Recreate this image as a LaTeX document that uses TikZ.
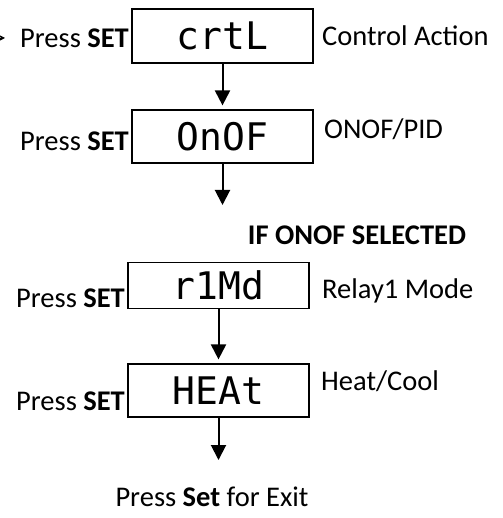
\documentclass[tikz,border=0pt]{standalone}
\usepackage{fontspec}
\setmainfont{Carlito}
\newfontfamily\segfont{DejaVu Sans Mono}
\usetikzlibrary{arrows.meta}
\begin{document}
\begin{tikzpicture}[x=1pt,y=-1pt,
  dispbox/.style={draw, line width=1.2pt, minimum width=181pt, inner sep=0pt,
    font=\segfont\fontsize{38}{38}\selectfont, text height=28pt, text depth=0pt},
  lbl/.style={inner sep=0pt, font=\fontsize{28.5}{33}\selectfont},
  arr/.style={line width=2pt, -{Triangle[width=15pt,length=15pt]}},
  inarr/.style={line width=0.8pt, -{Stealth[width=6pt,length=6pt]}}]
\useasboundingbox (0,0) rectangle (502,518);
\clip (0,0) rectangle (502,518);
% boxes
\node[dispbox, minimum height=54pt] (b1) at (222.5,36) {crtL};
\node[dispbox, minimum height=53pt] (b2) at (222.5,136.5) {OnOF};
\node[dispbox, minimum height=46pt] (b3) at (218.5,285.5) {r1Md};
\node[dispbox, minimum height=53pt] (b4) at (218.5,390.5) {HEAt};
% left labels
\node[lbl, anchor=east] (l1) at (129,38) {Press \textbf{SET}};
\node[lbl, anchor=east] (l2) at (129,141) {Press \textbf{SET}};
\node[lbl, anchor=east] (l3) at (125,298) {Press \textbf{SET}};
\node[lbl, anchor=east] (l4) at (125,401) {Press \textbf{SET}};
% right labels
\node[lbl, anchor=west] (r1) at (322,36) {Control Action};
\node[lbl, anchor=west] (r2) at (324,129) {ONOF/PID};
\node[lbl, anchor=west] (r3) at (322,291) {Relay1 Mode};
\node[lbl, anchor=west] (r4) at (321,381) {Heat/Cool};
% other texts
\node[lbl, font=\fontsize{28.5}{33}\selectfont\bfseries] (ifsel) at (357,235) {IF ONOF SELECTED};
\node[lbl] (exit) at (212,497) {Press \textbf{Set} for Exit};
% connectors
\coordinate (a2) at (222.5,205);
\coordinate (a4) at (218.5,460);
\coordinate (inL) at (-30,38);
\coordinate (inR) at (5,38);
\draw[arr, shorten >=4pt] (b1) -- (b2);
\draw[arr] (b2.south) -- (a2);
\draw[arr, shorten >=4pt] (b3) -- (b4);
\draw[arr] (b4.south) -- (a4);
\draw[inarr] (inL) -- (inR);
\end{tikzpicture}
\end{document}
